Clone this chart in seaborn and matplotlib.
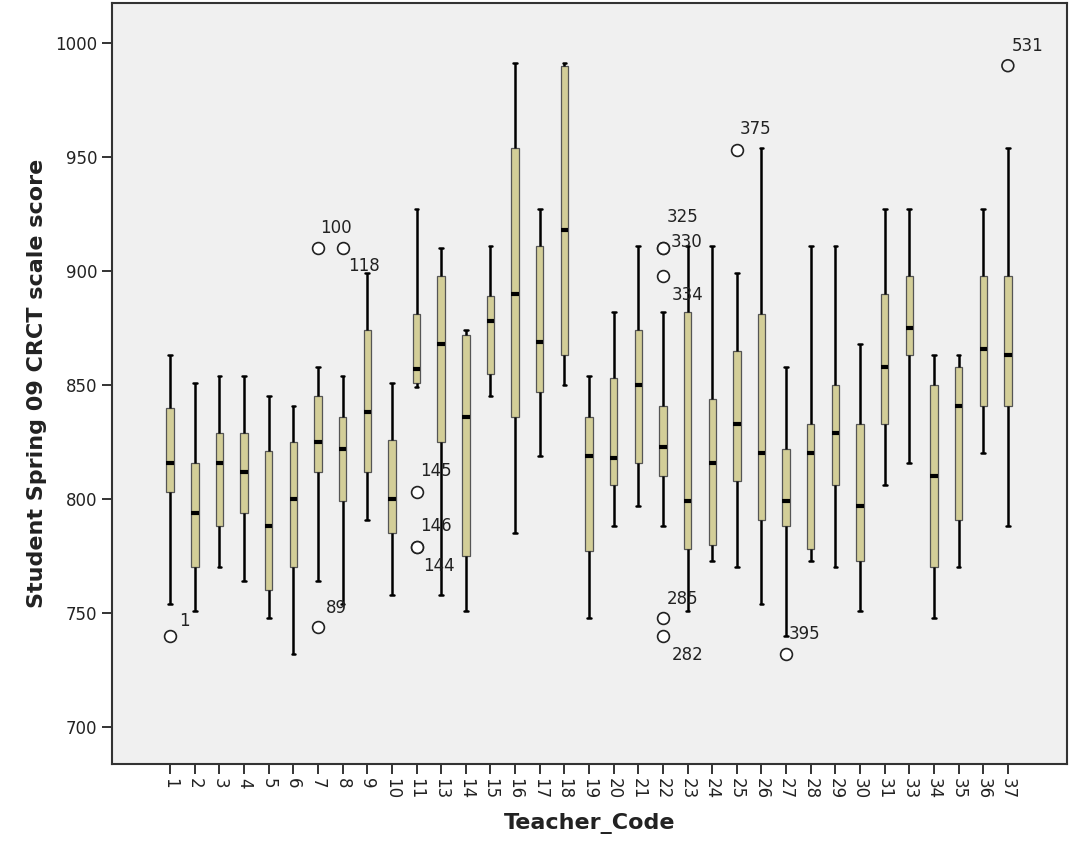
## SPSS style boxplot: CRCT scale score by teacher

import matplotlib
matplotlib.use("Agg")
import matplotlib.pyplot as plt
import seaborn as sns
import pandas as pd

#----------------------------------------------------
# data (five number summary per teacher)
#----------------------------------------------------

teachers = ["1", "2", "3", "4", "5", "6", "7", "8", "9", "10", "11",
            "13", "14", "15", "16", "17", "18", "19", "20", "21", "22",
            "23", "24", "25", "26", "27", "28", "29", "30", "31",
            "33", "34", "35", "36", "37"]

whisker_low  = [754, 751, 770, 764, 748, 732, 764, 754, 791, 758, 849,
                758, 751, 845, 785, 819, 850, 748, 788, 797, 788,
                751, 773, 770, 754, 740, 773, 770, 751, 806,
                816, 748, 770, 820, 788]
q1           = [803, 770, 788, 794, 760, 770, 812, 799, 812, 785, 851,
                825, 775, 855, 836, 847, 863, 777, 806, 816, 810,
                778, 780, 808, 791, 788, 778, 806, 773, 833,
                863, 770, 791, 841, 841]
median       = [816, 794, 816, 812, 788, 800, 825, 822, 838, 800, 857,
                868, 836, 878, 890, 869, 918, 819, 818, 850, 823,
                799, 816, 833, 820, 799, 820, 829, 797, 858,
                875, 810, 841, 866, 863]
q3           = [840, 816, 829, 829, 821, 825, 845, 836, 874, 826, 881,
                898, 872, 889, 954, 911, 990, 836, 853, 874, 841,
                882, 844, 865, 881, 822, 833, 850, 833, 890,
                898, 850, 858, 898, 898]
whisker_high = [863, 851, 854, 854, 845, 841, 858, 854, 899, 851, 927,
                910, 874, 911, 991, 927, 991, 854, 882, 911, 882,
                911, 911, 899, 954, 858, 911, 911, 868, 927,
                927, 863, 863, 927, 954]

outlier_teacher = ["1", "7", "7", "8", "11", "11", "11",
                   "22", "22", "22", "22", "22", "25", "27", "37"]
outlier_score   = [740, 910, 744, 910, 803, 779, 779,
                   910, 910, 898, 748, 740, 953, 732, 990]
outlier_case    = ["1", "100", "89", "118", "145", "146", "144",
                   "325", "330", "334", "285", "282", "375", "395", "531"]

# where SPSS put each case label, in pixels from the circle
label_offset = [(9, 15), (2, 20), (8, 19), (5, -18), (4, 21), (4, 21), (7, -19),
                (4, 31), (8, 6), (9, -19), (4, 19), (9, -19), (3, 21), (3, 20), (4, 20)]

BOX_FILL = "#D3CE98"
PANEL = "#F0F0F0"
INK = "#333333"

#----------------------------------------------------
# build long form table
#----------------------------------------------------

def build_table():
    rows = []
    for t, a, b, c, d, e in zip(teachers, whisker_low, q1, median, q3, whisker_high):
        for v in (a, b, c, d, e):
            rows.append({"Teacher_Code": t, "score": v})
    return pd.DataFrame(rows)

#----------------------------------------------------
# main
#----------------------------------------------------

def main():
    sns.set_theme(style="ticks")
    plt.rcParams['font.family'] = ['DejaVu Sans']

    df = build_table()
    out = pd.DataFrame({"Teacher_Code": outlier_teacher, "score": outlier_score})

    fig = plt.figure(figsize=(10.7, 8.57), dpi=100)
    ax = fig.add_axes([0.1047, 0.1085, 0.8925, 0.888])
    ax.set_facecolor(PANEL)

    sns.boxplot(data=df, x="Teacher_Code", y="score", order=teachers,
                whis=(0, 100), width=0.3, color=BOX_FILL, saturation=1,
                linecolor="black", linewidth=1.8, showfliers=False,
                boxprops=dict(edgecolor="#555555", linewidth=0.9),
                medianprops=dict(color="black", linewidth=3),
                ax=ax)

    sns.stripplot(data=out, x="Teacher_Code", y="score", order=teachers,
                  jitter=False, size=8.5, marker="o", color="white", linewidth=1.2,
                  edgecolor="#222222", ax=ax, zorder=5)
    pts = ax.collections[-1]
    pts.set_facecolor("none")
    pts.set_edgecolor("#222222")

    for t, v, c, (dx, dy) in zip(outlier_teacher, outlier_score, outlier_case, label_offset):
        ax.annotate(c, (teachers.index(t), v), xytext=(dx, dy), textcoords="offset pixels",
                    ha="left", va="center", fontsize=12, color="#222222")

    ax.set_xlim(-2.36, 36.4)
    ax.set_ylim(683.8, 1017.5)
    ax.set_yticks([700, 750, 800, 850, 900, 950, 1000])

    ax.tick_params(axis="both", direction="out", length=7, width=1.4, color=INK,
                   labelsize=12, labelcolor="#222222")
    ax.tick_params(axis="x", labelrotation=270, pad=3)
    for sp in ax.spines.values():
        sp.set_visible(True)
        sp.set_color(INK)
        sp.set_linewidth(1.5)

    ax.set_xlabel("Teacher_Code", fontsize=16, fontweight="bold", color="#222222", labelpad=10)
    ax.set_ylabel("Student Spring 09 CRCT scale score", fontsize=16, fontweight="bold",
                  color="#222222", labelpad=6)

    fig.savefig("out.png", dpi=100, facecolor="white")
    return


if __name__ == '__main__':
    main()
